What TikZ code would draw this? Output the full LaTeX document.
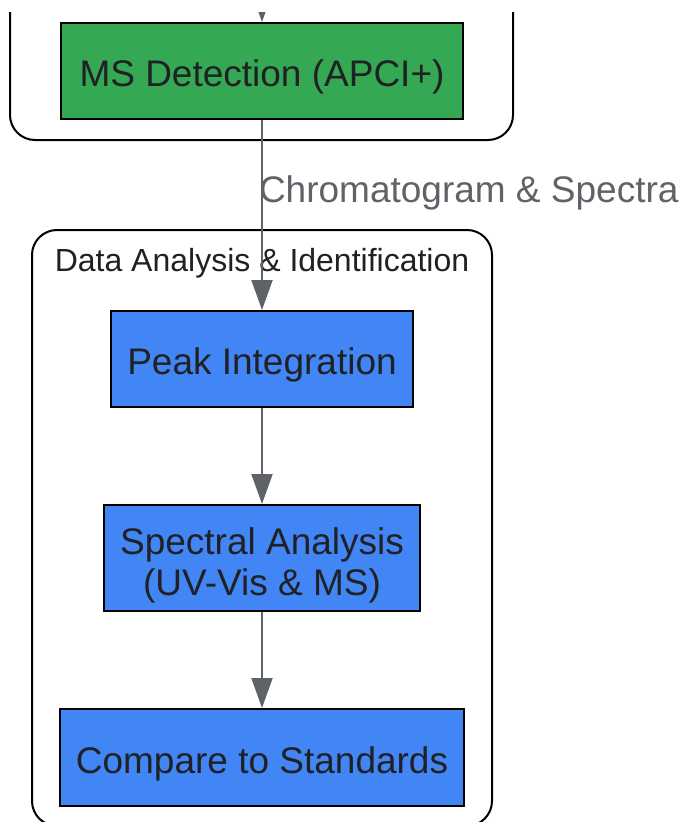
\documentclass[tikz,border=0pt]{standalone}
\usepackage{fontspec}
\setmainfont{Liberation Sans}
\usetikzlibrary{arrows.meta,positioning}
\definecolor{msgreen}{HTML}{34A853}
\definecolor{stepblue}{HTML}{4285F4}
\definecolor{ink}{HTML}{202124}
\definecolor{edgegray}{HTML}{5F6368}

\begin{document}
\begin{tikzpicture}[x=1pt,y=-1pt,>={Triangle[length=30pt,width=21pt]},node distance=96pt,
	box/.style={draw=black,line width=2pt,text=ink,font=\fontsize{37}{41}\selectfont,align=center,inner xsep=16pt,inner ysep=0pt},
	oneline/.style={text height=31pt,text depth=0pt},
	cluster/.style={draw=black,line width=2pt,rounded corners=25pt},
	flow/.style={->,draw=edgegray,line width=2pt}]
	\useasboundingbox (0,0) rectangle (682,822);
	\begin{scope}
		\clip (0,12) rectangle (682,822);
		\draw[cluster] (10,-60) rectangle (513,140);
		\node[box,oneline,fill=msgreen,minimum height=96pt,minimum width=402pt] (ms) at (262,71) {MS Detection (APCI+)};
		\coordinate (in) at (262,-20);
		\draw[flow] (in) -- (ms);
	\end{scope}
	\draw[cluster] (32,230) rectangle (492,826);
	\node[text=ink,font=\fontsize{32}{36}\selectfont] (title) at (262,263) {Data Analysis \& Identification};
	\node[box,oneline,fill=stepblue,minimum height=96pt] [below=190pt of ms] (peak) {Peak Integration};
	\node[box,fill=stepblue,minimum height=106pt,text height=75pt,text depth=0pt] [below=of peak] (spectral) {Spectral Analysis\\(UV-Vis \& MS)};
	\node[box,oneline,fill=stepblue,minimum height=97pt] [below=of spectral] (compare) {Compare to Standards};
	\path
		(ms) edge[flow] node[pos=0.385,anchor=west,inner sep=0pt,xshift=-4pt,text=edgegray,font=\fontsize{37}{42}\selectfont] {Chromatogram \& Spectra} (peak)
		(peak) edge[flow] (spectral)
		(spectral) edge[flow] (compare);
\end{tikzpicture}
\end{document}
